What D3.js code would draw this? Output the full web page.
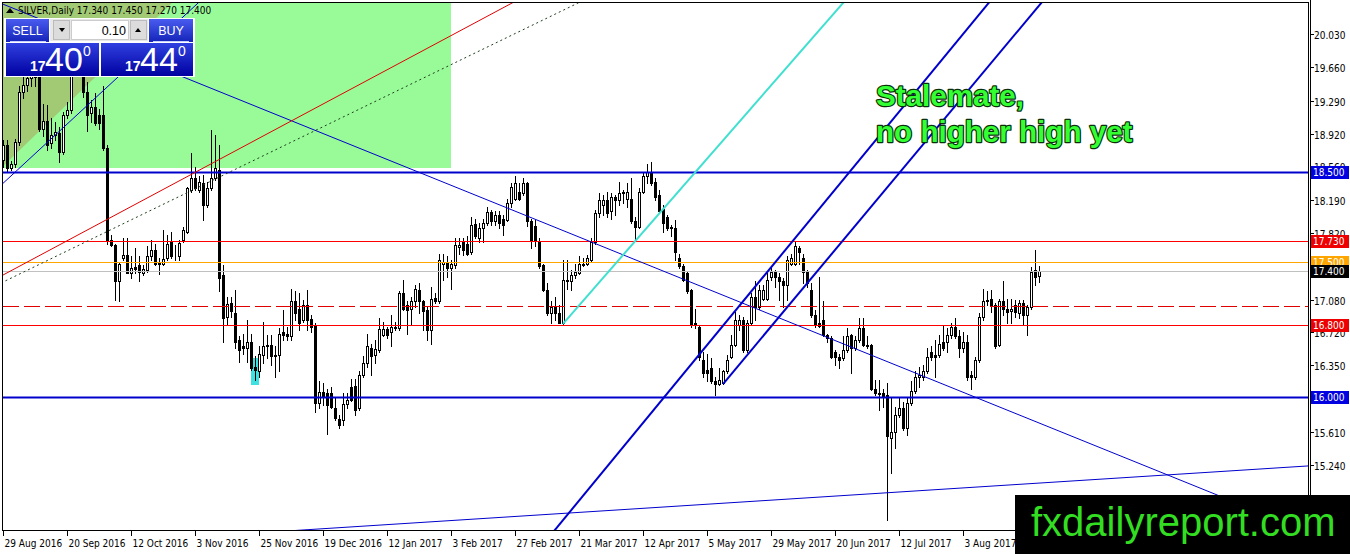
<!DOCTYPE html>
<html><head><meta charset="utf-8">
<script src="https://cdn.jsdelivr.net/npm/d3@7"></script>
<style>html,body{margin:0;padding:0;background:#fff;overflow:hidden}svg{display:block}</style>
</head><body>
<svg id="c" width="1350" height="554"></svg>
<script>
// ---------- DATA (XAGUSD daily, 29 Aug 2016 .. 30 Aug 2017, bar index 0..259) ----------
const openP = [18.63,18.80,18.54,18.59,18.83,19.39,19.46,19.54,19.75,19.57,18.98,19.06,18.82,18.91,18.93,18.72,19.13,19.19,19.78,19.85,
19.60,19.39,19.15,19.22,19.13,19.13,18.76,17.74,17.69,17.28,17.54,17.58,17.38,17.44,17.46,17.37,17.41,17.56,17.63,17.49,
17.48,17.54,17.72,17.58,17.56,17.74,17.83,18.30,18.43,18.30,18.38,18.13,18.32,18.43,18.52,17.35,16.89,17.04,16.93,16.63,
16.56,16.54,16.61,16.33,16.28,16.46,16.56,16.58,16.46,16.46,16.72,16.70,16.67,17.06,16.98,16.85,17.02,16.86,16.79,15.93,
16.05,16.04,16.04,15.87,15.75,15.74,15.92,16.11,16.12,15.88,16.24,16.37,16.54,16.46,16.52,16.69,16.75,16.72,16.78,16.76,
17.15,17.02,16.98,17.06,17.19,17.06,16.96,16.74,17.10,17.06,17.48,17.49,17.43,17.46,17.66,17.72,17.70,17.61,17.92,17.76,
17.87,17.93,18.05,17.95,18.02,17.98,17.96,18.15,18.20,18.28,18.26,18.37,17.95,17.90,17.73,17.46,17.19,16.93,17.00,16.93,
16.82,17.30,17.28,17.35,17.37,17.48,17.48,17.52,17.72,18.04,18.13,18.19,18.06,18.22,18.19,18.26,18.20,18.20,17.95,17.89,
18.28,18.45,18.50,18.39,18.24,18.09,18.00,17.89,17.87,17.54,17.45,17.37,17.19,16.82,16.78,16.41,16.30,16.32,16.17,16.14,
16.15,16.28,16.44,16.57,16.80,16.85,16.52,16.82,17.11,17.00,17.09,17.09,17.33,17.39,17.33,17.28,17.24,17.48,17.48,17.65,
17.54,17.39,17.19,16.91,16.82,16.85,16.69,16.65,16.50,16.44,16.43,16.52,16.69,16.54,16.63,16.76,16.57,16.57,16.09,16.04,
16.04,16.02,15.54,15.61,15.80,15.87,15.65,15.93,16.06,16.22,16.22,16.28,16.50,16.46,16.46,16.61,16.61,16.69,16.78,16.67,
16.54,16.61,16.24,16.22,16.41,16.89,17.06,17.09,17.02,16.57,17.06,16.98,16.95,17.02,16.93,17.04,16.91,17.00,17.41,17.34];
const highP = [18.85,18.85,18.62,18.86,19.45,19.55,19.70,19.95,19.80,19.62,19.25,19.24,19.10,19.05,19.00,19.16,19.28,19.85,20.00,19.90,
19.72,19.50,19.30,19.37,19.20,19.45,18.80,17.80,17.70,17.50,17.76,17.76,17.56,17.65,17.56,17.46,17.67,17.74,17.70,17.54,
17.85,17.80,17.83,17.69,17.74,17.89,18.33,18.71,18.55,18.45,18.46,18.39,18.96,18.91,18.80,17.46,17.11,17.11,17.19,16.67,
16.70,16.85,16.70,16.45,16.56,16.83,16.69,16.69,16.56,16.76,16.96,16.78,17.20,17.17,17.15,17.08,17.19,16.91,16.82,16.17,
16.15,16.09,16.11,16.00,15.80,16.04,16.04,16.20,16.20,16.28,16.45,16.70,16.59,16.63,16.87,16.83,16.78,16.91,16.83,17.17,
17.30,17.06,17.11,17.24,17.26,17.08,17.00,17.22,17.15,17.59,17.59,17.56,17.52,17.76,17.76,17.76,17.78,18.00,17.98,17.93,
17.98,18.11,18.08,18.06,18.06,18.02,18.20,18.37,18.45,18.37,18.43,18.39,17.98,17.96,17.76,17.48,17.26,17.06,17.11,17.02,
17.52,17.52,17.41,17.48,17.56,17.54,17.57,17.76,18.07,18.26,18.24,18.28,18.26,18.24,18.39,18.30,18.37,18.43,18.00,18.32,
18.50,18.59,18.61,18.43,18.30,18.13,18.02,17.91,17.96,17.59,17.48,17.39,17.20,16.98,16.80,16.50,16.48,16.43,16.22,16.32,
16.30,16.46,16.69,16.94,16.91,16.89,16.85,17.15,17.28,17.24,17.24,17.37,17.44,17.41,17.37,17.32,17.56,17.59,17.72,17.67,
17.59,17.41,17.26,16.96,17.33,17.06,16.70,16.67,16.52,16.48,16.67,16.76,16.70,16.67,16.87,16.87,16.67,16.59,16.19,16.19,
16.09,16.15,16.00,15.89,16.00,15.94,16.00,16.17,16.28,16.33,16.35,16.54,16.56,16.63,16.69,16.80,16.76,16.82,16.87,16.74,
16.72,16.69,16.28,16.44,16.93,17.20,17.17,17.19,17.04,17.09,17.28,17.09,17.09,17.07,17.07,17.07,17.02,17.44,17.63,17.45];
const lowP = [18.55,18.50,18.52,18.55,18.80,19.32,19.40,19.45,19.45,18.95,18.90,18.74,18.76,18.85,18.61,18.70,19.10,19.15,19.70,19.60,
19.33,18.95,19.05,19.02,18.98,18.74,17.70,17.67,17.07,17.06,17.52,17.37,17.32,17.37,17.28,17.35,17.39,17.52,17.46,17.36,
17.46,17.52,17.54,17.52,17.52,17.72,17.82,18.28,18.30,18.28,17.96,18.11,18.30,18.41,17.17,16.61,16.80,16.89,16.54,16.39,
16.48,16.39,16.30,16.19,16.22,16.37,16.43,16.35,16.22,16.28,16.63,16.63,16.63,16.85,16.74,16.83,16.74,16.72,15.83,15.87,
15.91,15.59,15.87,15.74,15.65,15.69,15.87,15.95,15.80,15.85,16.22,16.33,16.24,16.37,16.50,16.67,16.65,16.56,16.74,16.74,
16.96,16.70,16.80,17.00,16.93,16.74,16.63,16.59,17.04,17.04,17.30,17.33,17.20,17.43,17.59,17.58,17.58,17.59,17.76,17.72,
17.72,17.91,17.91,17.91,17.87,17.80,17.95,18.11,18.19,18.19,18.24,17.90,17.65,17.67,17.43,17.17,16.91,16.82,16.85,16.82,
16.81,17.20,17.19,17.32,17.36,17.45,17.46,17.50,17.70,18.00,18.02,18.00,17.98,18.02,18.13,18.15,18.11,17.93,17.74,17.87,
18.26,18.37,18.35,18.19,18.04,17.83,17.85,17.78,17.52,17.43,17.28,17.15,16.78,16.76,16.41,16.22,16.17,16.15,16.02,16.13,
16.14,16.26,16.43,16.56,16.74,16.50,16.50,16.80,16.85,16.98,17.07,17.07,17.30,17.22,17.07,17.00,17.07,17.46,17.46,17.48,
17.26,17.22,16.89,16.78,16.78,16.67,16.61,16.43,16.35,16.32,16.41,16.50,16.26,16.52,16.61,16.56,16.54,16.07,16.02,15.85,
15.89,14.63,15.15,15.43,15.78,15.63,15.57,15.91,16.04,16.11,16.19,16.26,16.41,16.22,16.44,16.52,16.50,16.65,16.65,16.44,
16.50,16.19,16.09,16.20,16.39,16.85,17.02,16.94,16.54,16.56,16.91,16.82,16.82,16.89,16.87,16.80,16.69,16.98,17.24,17.27];
const closeP = [18.80,18.54,18.59,18.83,19.39,19.46,19.54,19.75,19.55,18.98,19.06,18.80,18.91,18.94,18.72,19.13,19.19,19.78,19.85,19.70,
19.39,19.13,19.22,19.04,19.04,18.76,17.74,17.69,17.28,17.48,17.58,17.38,17.43,17.42,17.39,17.42,17.56,17.63,17.48,17.47,
17.53,17.70,17.56,17.57,17.71,17.85,18.32,18.43,18.32,18.39,18.13,18.32,18.43,18.54,17.32,16.87,17.03,16.95,16.61,16.52,
16.54,16.61,16.32,16.30,16.48,16.56,16.57,16.45,16.45,16.70,16.69,16.67,17.06,16.93,16.82,17.02,16.85,16.78,15.93,16.05,
16.00,15.91,15.89,15.76,15.69,15.92,15.96,15.96,15.85,16.24,16.37,16.56,16.45,16.53,16.75,16.75,16.69,16.78,16.76,17.15,
16.98,16.96,17.06,17.20,17.06,16.95,16.74,17.09,17.06,17.52,17.50,17.43,17.48,17.69,17.69,17.63,17.59,17.91,17.78,17.87,
17.93,18.05,17.95,18.02,17.93,17.91,18.15,18.33,18.37,18.20,18.37,17.95,17.73,17.73,17.45,17.19,16.93,17.00,16.93,16.82,
17.30,17.28,17.35,17.39,17.48,17.46,17.54,17.72,18.04,18.19,18.19,18.04,18.22,18.19,18.26,18.27,18.27,17.95,17.89,18.28,
18.45,18.50,18.37,18.22,18.06,17.93,17.87,17.87,17.61,17.45,17.30,17.17,16.80,16.80,16.44,16.26,16.26,16.17,16.14,16.19,
16.28,16.41,16.57,16.85,16.85,16.52,16.82,17.11,17.00,17.19,17.19,17.30,17.39,17.33,17.28,17.24,17.52,17.54,17.67,17.61,
17.39,17.26,16.91,16.80,16.79,16.69,16.65,16.44,16.44,16.41,16.52,16.67,16.54,16.63,16.76,16.57,16.56,16.09,16.04,16.03,
16.00,15.56,15.61,15.80,15.87,15.65,15.93,16.06,16.22,16.24,16.28,16.44,16.44,16.44,16.59,16.54,16.69,16.78,16.67,16.54,
16.61,16.22,16.22,16.41,16.89,17.06,17.07,17.02,16.56,17.06,16.98,16.94,16.97,16.94,17.04,16.91,17.00,17.39,17.33,17.40];

const dateLabels = ["29 Aug 2016","20 Sep 2016","12 Oct 2016","3 Nov 2016","25 Nov 2016","19 Dec 2016","12 Jan 2017","3 Feb 2017",
  "27 Feb 2017","21 Mar 2017","12 Apr 2017","5 May 2017","29 May 2017","20 Jun 2017","12 Jul 2017","3 Aug 2017"];
const dateLabelStep = 16; // bars between date labels
const priceTicks = [20.03,19.66,19.29,18.92,18.56,18.19,17.82,17.45,17.08,16.72,16.35,15.98,15.61,15.24,14.87];

// horizontal levels (price) and tagged labels
const levels = [
  {p:18.50, kind:"blueThick", tag:"18.500", tagFill:"#0000e0", tagText:"#fff"},
  {p:17.73, kind:"red",       tag:"17.730", tagFill:"#ee0000", tagText:"#fff"},
  {p:17.50, kind:"orange",    tag:"17.500", tagFill:"#ffa500", tagText:"#fff"},
  {p:17.40, kind:"bid",       tag:"17.400", tagFill:"#000000", tagText:"#fff"},
  {p:17.01, kind:"redDash",   tag:null},
  {p:16.80, kind:"red",       tag:"16.800", tagFill:"#ee0000", tagText:"#fff"},
  {p:16.00, kind:"blueThick", tag:"16.000", tagFill:"#0000e0", tagText:"#fff"}
];
// trend objects, anchored in (bar index, price)
const trendObjects = [
  {a:[59.25,19.297], b:[119.25,18.219], kind:"blueThin", from:-5},
  {a:[0.075,18.374], b:[28.75,19.552], kind:"blueThin", from:-5},
  {a:[0,17.352],     b:[127.25,20.374], kind:"redThin", from:-5},
  {a:[0,17.274],     b:[143.75,20.374], kind:"dotted", from:-5},
  {a:[140,16.81],    b:[210,20.374],  kind:"cyan", from:140},
  {a:[169.25,16.208],b:[201.75,17.963], kind:"channel", from:-5},
  {a:[180,16.14],    b:[214.25,17.963], kind:"channel", from:180},
  {a:[169.25,14.786],b:[231.75,14.963], kind:"blueThin", from:-5}
];
const zoneRect = {i0:0, i1:112, p0:18.541, p1:20.6};
const zoneTriangle = [[-1,20.6],[42.25,20.374],[-1,18.519]];
const markBox = {i0:62, i1:64, p0:16.13, p1:16.43};
const note = ["Stalemate,", "no higher high yet"];
const header = "SILVER,Daily 17.340 17.450 17.270 17.400";

// ---------- SCALES ----------
const svg = d3.select("#c");
const plot = {l:3, r:1309, t:3, b:531};
const x = d3.scaleLinear().domain([0, 259]).range([3, 1039]);
const y = d3.scaleLinear().domain([15.24, 20.03]).range([465.1, 34]);
const candles = openP.map((o,i)=>({i, o, h:highP[i], l:lowP[i], c:closeP[i]}));

const defs = svg.append("defs");
defs.append("clipPath").attr("id","plotclip").append("rect")
  .attr("x",plot.l).attr("y",plot.t).attr("width",plot.r-plot.l).attr("height",plot.b-plot.t);
const g1 = defs.append("linearGradient").attr("id","btn").attr("x1",0).attr("x2",0).attr("y1",0).attr("y2",1);
g1.append("stop").attr("offset","0%").attr("stop-color","#4a5cf0");
g1.append("stop").attr("offset","100%").attr("stop-color","#1424b8");
const g2 = defs.append("linearGradient").attr("id","big").attr("x1",0).attr("x2",0).attr("y1",0).attr("y2",1);
g2.append("stop").attr("offset","0%").attr("stop-color","#3040e0");
g2.append("stop").attr("offset","100%").attr("stop-color","#0000a0");

svg.append("rect").attr("width",1350).attr("height",554).attr("fill","#fff");
const P = svg.append("g").attr("clip-path","url(#plotclip)");

// zone rectangle + triangle (background objects)
P.append("rect").attr("x",x(zoneRect.i0)).attr("y",y(zoneRect.p1))
  .attr("width",x(zoneRect.i1)-x(zoneRect.i0)).attr("height",y(zoneRect.p0)-y(zoneRect.p1)).attr("fill","#98fb98");
P.append("polygon").attr("points",zoneTriangle.map(d=>[x(d[0]),y(d[1])].join(",")).join(" ")).attr("fill","#a2ca74");
P.append("rect").attr("x",x(markBox.i0)).attr("y",y(markBox.p1))
  .attr("width",x(markBox.i1)-x(markBox.i0)).attr("height",y(markBox.p0)-y(markBox.p1)).attr("fill","#3fe0e0");

// candles
const cg = P.append("g").attr("shape-rendering","crispEdges");
cg.selectAll("line.w").data(candles).join("line")
  .attr("x1",d=>Math.round(x(d.i))+0.5).attr("x2",d=>Math.round(x(d.i))+0.5)
  .attr("y1",d=>Math.round(y(d.h))).attr("y2",d=>Math.round(y(d.l))+1)
  .attr("stroke","#000").attr("stroke-width",1);
cg.selectAll("rect.b").data(candles).join("rect")
  .attr("x",d=>Math.round(x(d.i))-0.5)
  .attr("y",d=>Math.round(y(Math.max(d.o,d.c)))+0.5)
  .attr("width",2)
  .attr("height",d=>Math.max(0, Math.round(y(Math.min(d.o,d.c)))-Math.round(y(Math.max(d.o,d.c)))))
  .attr("fill",d=>d.c>=d.o?"#fff":"#000").attr("stroke","#000").attr("stroke-width",1);

// horizontal levels
const lvStyle = {
  blueThick:{s:"#0000cc",w:2.2,d:null},
  red:{s:"#ff0000",w:1.2,d:null},
  orange:{s:"#ffa500",w:1,d:null},
  bid:{s:"#c0c0c0",w:1,d:null},
  redDash:{s:"#e00000",w:1,d:"16,5"}
};
levels.forEach(L=>{
  const st = lvStyle[L.kind], yy = Math.round(y(L.p))+0.5;
  P.append("line").attr("x1",plot.l).attr("x2",plot.r).attr("y1",yy).attr("y2",yy)
    .attr("stroke",st.s).attr("stroke-width",st.w).attr("stroke-dasharray",st.d);
});

// trend objects
const trStyle = {
  blueThin:{s:"#0000cd",w:1,d:null},
  redThin:{s:"#e00000",w:1,d:null},
  dotted:{s:"#1e3e1e",w:1,d:"2,3"},
  cyan:{s:"#40e0d0",w:2,d:null},
  channel:{s:"#0000cc",w:2,d:null}
};
trendObjects.forEach(T=>{
  const slope = (T.b[1]-T.a[1])/(T.b[0]-T.a[0]);
  const i0 = T.from, i1 = 340;
  const st = trStyle[T.kind];
  P.append("line").attr("x1",x(i0)).attr("y1",y(T.a[1]+(i0-T.a[0])*slope))
    .attr("x2",x(i1)).attr("y2",y(T.a[1]+(i1-T.a[0])*slope))
    .attr("stroke",st.s).attr("stroke-width",st.w).attr("stroke-dasharray",st.d);
});

// frame
svg.append("rect").attr("x",plot.l-0.5).attr("y",plot.t-0.5).attr("width",plot.r-plot.l).attr("height",plot.b-plot.t)
  .attr("fill","none").attr("stroke","#000").attr("stroke-width",1).attr("shape-rendering","crispEdges");
svg.append("line").attr("x1",1310.5).attr("x2",1310.5).attr("y1",0).attr("y2",plot.b)
  .attr("stroke","#000").attr("shape-rendering","crispEdges");

// price axis (labels fully hidden under a level tag are not drawn, as in the original)
const AX = svg.append("g").attr("font-family","'DejaVu Sans Condensed','DejaVu Sans',sans-serif").attr("font-size","10px");
const tagYs = levels.filter(L=>L.tag).map(L=>y(L.p));
priceTicks.forEach(p=>{
  const yy = Math.round(y(p))+0.5;
  AX.append("line").attr("x1",1310).attr("x2",1314).attr("y1",yy).attr("y2",yy).attr("stroke","#000");
  const hidden = tagYs.some(t=>Math.abs(t-y(p))<4.5) || y(p)>490;
  if(!hidden) AX.append("text").attr("x",1314).attr("y",yy+4).text(p.toFixed(3)).attr("fill","#000");
});
levels.filter(L=>L.tag).forEach(L=>{
  const yy = Math.round(y(L.p));
  AX.append("rect").attr("x",1311).attr("y",yy-6).attr("width",38).attr("height",13).attr("fill",L.tagFill);
  AX.append("text").attr("x",1313).attr("y",yy+4).text(L.tag).attr("fill",L.tagText);
});

// date axis
dateLabels.forEach((t,k)=>{
  const xx = Math.round(x(k*dateLabelStep))+0.5;
  AX.append("line").attr("x1",xx).attr("x2",xx).attr("y1",plot.b).attr("y2",plot.b+5).attr("stroke","#000");
  AX.append("text").attr("x",xx+1).attr("y",547).text(t).attr("fill","#000");
});

// annotation
const N = svg.append("g").attr("font-family","'Liberation Sans',Arial,sans-serif").attr("font-weight","bold").attr("font-size","29.6px");
note.forEach((t,k)=>{
  N.append("text").attr("x",876).attr("y",106+k*36).text(t)
   .attr("fill","#33ff33").attr("stroke","#0a300a").attr("stroke-width",2.4).attr("paint-order","stroke").attr("stroke-linejoin","round");
});

// header + trade panel
svg.append("path").attr("d","M6,13 L10,8 L14,13 Z").attr("fill","#000");
svg.append("text").attr("x",18).attr("y",14).attr("font-family","'DejaVu Sans Condensed','DejaVu Sans',sans-serif")
  .attr("font-size","10px").attr("fill","#000").text(header);
const T = svg.append("g").attr("font-family","'Liberation Sans',Arial,sans-serif");
T.append("rect").attr("x",4).attr("y",18).attr("width",191).attr("height",59).attr("fill","#fff");
T.append("rect").attr("x",6).attr("y",19).attr("width",43).attr("height",23).attr("fill","url(#btn)");
T.append("rect").attr("x",149).attr("y",19).attr("width",44).attr("height",23).attr("fill","url(#btn)");
T.append("line").attr("x1",10).attr("x2",46).attr("y1",41.5).attr("y2",41.5).attr("stroke","#c8d0ff");
T.append("line").attr("x1",153).attr("x2",189).attr("y1",41.5).attr("y2",41.5).attr("stroke","#c8d0ff");
T.append("text").attr("x",27.5).attr("y",35).attr("text-anchor","middle").attr("font-size","12.5px").attr("fill","#fff").text("SELL");
T.append("text").attr("x",171).attr("y",35).attr("text-anchor","middle").attr("font-size","12.5px").attr("fill","#fff").text("BUY");
T.append("rect").attr("x",50).attr("y",19).attr("width",98).attr("height",22).attr("fill","#e8e8e8");
T.append("rect").attr("x",53.5).attr("y",20.5).attr("width",16).attr("height",19).attr("fill","#dcdcdc").attr("stroke","#bbb");
T.append("rect").attr("x",71.5).attr("y",20.5).attr("width",57).attr("height",19).attr("fill","#fff").attr("stroke","#ccc");
T.append("rect").attr("x",130.5).attr("y",20.5).attr("width",16).attr("height",19).attr("fill","#dcdcdc").attr("stroke","#bbb");
T.append("path").attr("d","M59,28 L65,28 L62,32 Z").attr("fill","#000");
T.append("path").attr("d","M135,32 L141,32 L138,28 Z").attr("fill","#000");
T.append("text").attr("x",126).attr("y",35).attr("text-anchor","end").attr("font-size","12.5px").attr("fill","#000").text("0.10");
[[6,"17","40"],[101,"17","44"]].forEach(([bx,a,b])=>{
  T.append("rect").attr("x",bx).attr("y",43).attr("width",bx===6?93:92).attr("height",33).attr("fill","url(#big)");
  T.append("text").attr("x",bx+24).attr("y",71).attr("font-size","14px").attr("font-weight","bold").attr("fill","#fff").text(a);
  T.append("text").attr("x",bx+39).attr("y",71).attr("font-size","34px").attr("fill","#fff").text(b);
  T.append("text").attr("x",bx+77).attr("y",56).attr("font-size","14px").attr("fill","#fff").text("0");
});

// watermark box
svg.append("rect").attr("x",1015).attr("y",495).attr("width",335).attr("height",59).attr("fill","#000");
svg.append("text").attr("x",1031).attr("y",536).attr("font-family","'Liberation Sans',Arial,sans-serif")
  .attr("font-size","40px").attr("fill","#33dd22").text("fxdailyreport.com");
</script>
</body></html>
